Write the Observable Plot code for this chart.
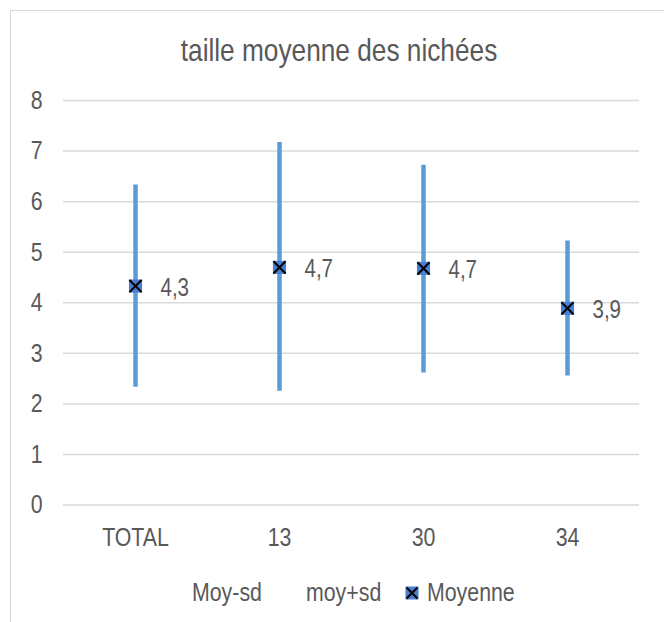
<!DOCTYPE html>
<html><head><meta charset="utf-8">
<script src="https://cdn.jsdelivr.net/npm/d3@7"></script>
<script src="https://cdn.jsdelivr.net/npm/@observablehq/plot@0.6"></script>
<style>
body{margin:0;background:#fff;font-family:"Liberation Sans",Arial,sans-serif;color:#595959;width:664px;height:622px;overflow:hidden;position:relative}
#frame{position:absolute;left:10px;top:10px;width:660px;height:620px;border-left:1.5px solid #d9d9d9;border-top:1.5px solid #d9d9d9}
#title{position:absolute;left:14px;top:31px;width:650px;text-align:center;font-size:32px;line-height:38px}
#title span{display:inline-block;transform:scaleX(0.82);white-space:nowrap}
#chart{position:absolute;left:0;top:80px}
#legend{position:absolute;left:0;top:577px;width:664px;height:30px;font-size:26px;line-height:30px}
#legend .it{position:absolute;top:0;white-space:nowrap;transform:scaleX(0.82);transform-origin:0 50%}
#legend .mk{position:absolute;top:8px}
</style></head>
<body>
<div id="frame"></div>
<div id="title"><span>taille moyenne des nichées</span></div>
<div id="chart"></div>
<div id="legend">
  <span class="it" style="left:192px">Moy-sd</span>
  <span class="it" style="left:306px">moy+sd</span>
  <svg class="mk" style="left:404px" width="16" height="16"><rect x="1.5" y="1.5" width="13" height="13" fill="#4a7cd0"/><path d="M2.5,2.5L13.5,13.5M13.5,2.5L2.5,13.5" stroke="#000" stroke-width="2"/></svg>
  <span class="it" style="left:427px">Moyenne</span>
</div>
<script>
const categories = ["TOTAL", "13", "30", "34"];
const moyenne = [4.33, 4.70, 4.68, 3.89];
const moyMinusSd = [2.33, 2.25, 2.61, 2.55];
const moyPlusSd = [6.33, 7.17, 6.72, 5.22];
const valueLabels = ["4,3", "4,7", "4,7", "3,9"];
const yTicks = [0, 1, 2, 3, 4, 5, 6, 7, 8];

const rows = categories.map((c, i) => ({
  cat: c, moy: moyenne[i], lo: moyMinusSd[i], hi: moyPlusSd[i], label: valueLabels[i]
}));

const chart = Plot.plot({
  width: 664,
  height: 480,
  marginLeft: 63,
  marginRight: 25,
  marginTop: 20,
  marginBottom: 55.5,
  style: {fontFamily: '"Liberation Sans", Arial, sans-serif', color: "#595959", background: "transparent", overflow: "visible"},
  x: {type: "point", domain: categories, padding: 0.5, label: null},
  y: {domain: [0, 8], label: null},
  marks: [
    Plot.gridY(yTicks, {stroke: "#d9d9d9", strokeOpacity: 1, strokeWidth: 1.5}),
    Plot.axisY({ticks: yTicks, tickSize: 0, tickPadding: 21, fontSize: 26, label: null}),
    Plot.axisX({tickSize: 0, tickPadding: 23, fontSize: 26, label: null}),
    Plot.ruleX(rows, {x: "cat", y1: "lo", y2: "hi", stroke: "#5b9bd5", strokeWidth: 4.5}),
    Plot.dot(rows, {x: "cat", y: "moy", symbol: "square", r: 7.4, fill: "#4a7cd0", stroke: "none"}),
    Plot.dot(rows, {x: "cat", y: "moy", symbol: "times", r: 5.6, stroke: "#000", strokeWidth: 2}),
    Plot.text(rows, {x: "cat", y: "moy", text: "label", dx: 25, dy: 2, textAnchor: "start", fontSize: 25, fill: "#595959"})
  ]
});
document.getElementById("chart").appendChild(chart);
// Reference uses a condensed face: compress glyphs horizontally
chart.querySelectorAll("text").forEach(t => {
  const w = t.getComputedTextLength();
  if (w > 0) {
    t.setAttribute("textLength", (w * 0.82).toFixed(2));
    t.setAttribute("lengthAdjust", "spacingAndGlyphs");
  }
});
</script>
</body></html>
